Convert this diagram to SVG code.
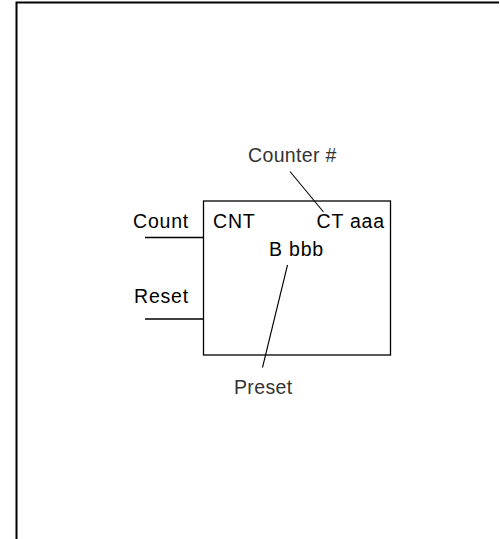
<svg xmlns="http://www.w3.org/2000/svg" width="500" height="539" viewBox="0 0 500 539">
<style>
.t{font-family:"Liberation Sans",Arial,sans-serif;font-size:19.5px;letter-spacing:0.8px;fill:#000}
.l{font-family:"Liberation Sans",Arial,sans-serif;font-size:19.5px;letter-spacing:0.35px;fill:#333}
.ln{stroke:#000;stroke-width:1.3;fill:none}
</style>
<rect width="500" height="539" fill="#fff"/>
<path d="M16.5,539 V2.5 H499" fill="none" stroke="#000" stroke-width="2"/>
<g id="counter">
<rect x="203.5" y="201" width="187" height="154" class="ln"/>
<text class="t" x="213" y="227.5">CNT</text>
<text class="t" x="316.5" y="227.5">CT aaa</text>
<text class="t" x="269" y="256">B bbb</text>
</g>
<g id="count-input"><text class="t" x="133" y="227.5">Count</text></g>
<g id="reset-input"><text class="t" x="134" y="302.5">Reset</text></g>
<g id="counter-label"><text class="l" x="248" y="162">Counter #</text></g>
<g id="preset-label"><text class="l" x="234" y="394">Preset</text></g>
<g id="connectors">
<line x1="145" y1="237.5" x2="203.5" y2="237.5" class="ln"/>
<line x1="145" y1="319" x2="203.5" y2="319" class="ln"/>
<line x1="290" y1="171.5" x2="323.5" y2="212" stroke="#000" stroke-width="1.1"/>
<line x1="287.5" y1="265" x2="262.5" y2="367.5" stroke="#000" stroke-width="1.1"/>
</g>
</svg>
